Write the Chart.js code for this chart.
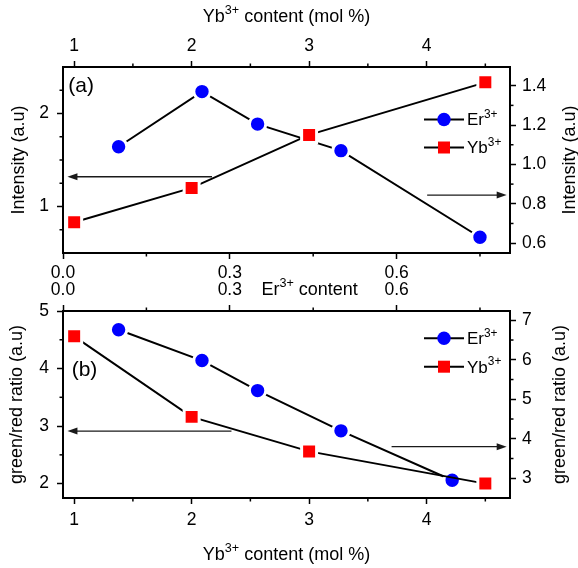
<!DOCTYPE html>
<html>
<head>
<meta charset="utf-8">
<script src="https://cdn.jsdelivr.net/npm/chart.js@4.4.1/dist/chart.umd.min.js"></script>
<style>
  html, body { margin: 0; padding: 0; background: #fff; }
  #wrap { position: relative; width: 578px; height: 568px; }
  #wrap canvas { position: absolute; left: 0; top: 0; }
</style>
</head>
<body>
<div id="wrap">
  <canvas id="panelB" width="578" height="568"></canvas>
  <canvas id="panelA" width="578" height="568"></canvas>
</div>
<script>
// panel (a): intensity
const ybContentA = [1, 2, 3, 4.5];
const ybIntensityA = [0.83, 1.20, 1.77, 2.335];
const erContentA = [0.1, 0.25, 0.35, 0.5, 0.75];
const erIntensityA = [1.09, 1.37, 1.205, 1.07, 0.63];

// panel (b): green/red ratio
const ybContentB = [1, 2, 3, 4.5];
const ybRatioB = [4.56, 3.16, 2.56, 2.0];
const erContentB = [0.1, 0.25, 0.35, 0.5, 0.7];
const erRatioB = [6.76, 5.98, 5.22, 4.2, 2.95];

// ticks (major labelled, minor unlabelled)
const ybTicks = [1, 2, 3, 4];
const ybMinor = [1.5, 2.5, 3.5, 4.5];
const erTicks = [0, 0.3, 0.6];
const erMinor = [0.15, 0.45, 0.75];
const intensityTicks = [1, 2];
const intensityMinor = [0.75, 1.25, 1.5, 1.75, 2.25];
const intensityRTicks = [0.6, 0.8, 1.0, 1.2, 1.4];
const intensityRMinor = [0.7, 0.9, 1.1, 1.3];
const ratioTicks = [2, 3, 4, 5];
const ratioMinor = [2.5, 3.5, 4.5];
const ratioRTicks = [3, 4, 5, 6, 7];
const ratioRMinor = [3.5, 4.5, 5.5, 6.5];

// arrows: y on left axis, x on Er content axis
const arrowsA = [{ y: 1.32, from: 0.268, to: 0.008 }, { y: 1.123, from: 0.655, to: 0.798 }];
const arrowsB = [{ y: 2.914, from: 0.303, to: 0.008 }, { y: 2.642, from: 0.591, to: 0.798 }];

const FONT = '"Liberation Sans", Arial, Helvetica, sans-serif';
const BLUE = '#0000ff';
const RED = '#ff0000';

// text with superscripts, y is the visual middle of the line
function rich(ctx, parts, x, y, size, opt = {}) {
  const supSize = size * 0.7;
  const fontOf = sup => `${sup ? supSize : size}px ${FONT}`;
  let w = 0;
  for (const [t, sup] of parts) { ctx.font = fontOf(sup); w += ctx.measureText(t).width; }
  ctx.save();
  ctx.translate(x, y);
  if (opt.rot) ctx.rotate(opt.rot);
  ctx.fillStyle = '#000';
  ctx.textBaseline = 'alphabetic';
  ctx.textAlign = 'left';
  let cx = opt.align === 'left' ? 0 : -w / 2;
  const base = size * 0.35;
  for (const [t, sup] of parts) {
    ctx.font = fontOf(sup);
    ctx.fillText(t, cx, sup ? base - size * 0.45 : base);
    cx += ctx.measureText(t).width;
  }
  ctx.restore();
}

function arrow(ctx, x1, y, x2) {
  const dir = Math.sign(x2 - x1);
  ctx.save();
  ctx.strokeStyle = '#1a1a1a';
  ctx.fillStyle = '#1a1a1a';
  ctx.lineWidth = 1.3;
  ctx.beginPath();
  ctx.moveTo(x1, y);
  ctx.lineTo(x2 - dir * 8, y);
  ctx.stroke();
  ctx.beginPath();
  ctx.moveTo(x2, y);
  ctx.lineTo(x2 - dir * 10, y - 3.5);
  ctx.lineTo(x2 - dir * 10, y + 3.5);
  ctx.closePath();
  ctx.fill();
  ctx.restore();
}

function minorTicks(ctx, scale, vals) {
  const len = 3.5;
  ctx.save();
  ctx.strokeStyle = '#000';
  ctx.lineWidth = 1.5;
  vals.forEach(v => {
    const p = scale.getPixelForValue(v);
    ctx.beginPath();
    if (scale.position === 'left') { ctx.moveTo(scale.right, p); ctx.lineTo(scale.right - len, p); }
    if (scale.position === 'right') { ctx.moveTo(scale.left, p); ctx.lineTo(scale.left + len, p); }
    if (scale.position === 'top') { ctx.moveTo(p, scale.bottom); ctx.lineTo(p, scale.bottom - len); }
    if (scale.position === 'bottom') { ctx.moveTo(p, scale.top); ctx.lineTo(p, scale.top + len); }
    ctx.stroke();
  });
  ctx.restore();
}

const legendItems = [
  { parts: [['Er', 0], ['3+', 1]], color: BLUE, style: 'circle' },
  { parts: [['Yb', 0], ['3+', 1]], color: RED, style: 'rect' }
];

function decor(cfg) {
  return {
    id: 'decor',
    afterDraw(chart) {
      const ctx = chart.ctx;
      const area = chart.chartArea;
      Object.entries(cfg.minor).forEach(([id, vals]) => minorTicks(ctx, chart.scales[id], vals));

      const xs = chart.scales.xEr, ys = chart.scales.yL;
      cfg.arrows.forEach(a => arrow(ctx, xs.getPixelForValue(a.from), ys.getPixelForValue(a.y), xs.getPixelForValue(a.to)));

      // legend
      legendItems.forEach((it, i) => {
        const y = area.top + cfg.legendRows[i];
        const mx = area.right - 66;
        ctx.save();
        ctx.strokeStyle = '#000';
        ctx.lineWidth = 2;
        ctx.beginPath();
        ctx.moveTo(mx - 20, y);
        ctx.lineTo(mx + 20, y);
        ctx.stroke();
        ctx.fillStyle = it.color;
        ctx.beginPath();
        if (it.style === 'circle') ctx.arc(mx, y, 6.7, 0, Math.PI * 2);
        else ctx.rect(mx - 6, y - 6, 12, 12);
        ctx.fill();
        ctx.restore();
        rich(ctx, it.parts, mx + 23, y, 17, { align: 'left' });
      });

      rich(ctx, [[cfg.label, 0]], area.left + cfg.labelPos[0], area.top + cfg.labelPos[1], 21, { align: 'left' });
      cfg.titles.forEach(t => rich(ctx, t.parts, t.x, t.y, 18, { rot: t.rot }));
    }
  };
}

function axis(position, min, max, ticks, fmt, pad, size) {
  return {
    type: 'linear',
    position,
    min,
    max,
    bounds: 'data',
    afterBuildTicks: s => { s.ticks = ticks.map(v => ({ value: v })); },
    afterFit: s => { if (s.isHorizontal()) s.height = size; else s.width = size; },
    border: { display: true, color: '#000', width: 2 },
    grid: { display: true, drawOnChartArea: false, drawTicks: true, tickLength: 6, tickWidth: 1.5, color: '#000', tickColor: '#000' },
    ticks: { color: '#000', padding: pad, maxRotation: 0, autoSkip: false, font: { family: FONT, size: 17.5 }, callback: v => fmt(v) },
    title: { display: false }
  };
}

const int = v => String(Math.round(v));
const one = v => v.toFixed(1);

function series(xs, ys, style, color, xAxisID) {
  const circle = style === 'circle';
  return {
    data: xs.map((x, i) => ({ x, y: ys[i] })),
    xAxisID,
    yAxisID: circle ? 'yR' : 'yL',
    showLine: true,
    borderColor: '#000',
    borderWidth: 2,
    pointStyle: style,
    pointRadius: circle ? 8.2 : 10.6,
    pointHoverRadius: circle ? 8.2 : 10.6,
    pointBackgroundColor: color,
    pointBorderColor: '#fff',
    pointBorderWidth: 3,
    pointHoverBorderWidth: 3
  };
}

const common = {
  responsive: false,
  animation: false,
  events: [],
  plugins: { legend: { display: false }, tooltip: { enabled: false } }
};

new Chart(document.getElementById('panelA'), {
  type: 'scatter',
  data: {
    datasets: [
      series(ybContentA, ybIntensityA, 'rect', RED, 'xYb'),
      series(erContentA, erIntensityA, 'circle', BLUE, 'xEr')
    ]
  },
  options: {
    ...common,
    layout: { autoPadding: false, padding: { top: 0, left: 0, right: 0, bottom: 258 } },
    scales: {
      xYb: axis('top', 0.905, 4.71, ybTicks, int, 4, 67),
      xEr: axis('bottom', 0, 0.804, erTicks, one, 3.5, 57),
      yL: axis('left', 0.5, 2.5, intensityTicks, int, 8, 63),
      yR: axis('right', 0.55, 1.495, intensityRTicks, one, 6, 68)
    }
  },
  plugins: [decor({
    minor: { xYb: ybMinor, xEr: erMinor, yL: intensityMinor, yR: intensityRMinor },
    arrows: arrowsA,
    legendRows: [52.5, 80.5],
    label: '(a)',
    labelPos: [5.3, 18],
    titles: [
      { parts: [['Yb', 0], ['3+', 1], [' content (mol %)', 0]], x: 286.5, y: 15.8 },
      { parts: [['Intensity (a.u)', 0]], x: 17.8, y: 160, rot: -Math.PI / 2 },
      { parts: [['Intensity (a.u)', 0]], x: 569, y: 160, rot: -Math.PI / 2 }
    ]
  })]
});

new Chart(document.getElementById('panelB'), {
  type: 'scatter',
  data: {
    datasets: [
      series(ybContentB, ybRatioB, 'rect', RED, 'xYb'),
      series(erContentB, erRatioB, 'circle', BLUE, 'xEr')
    ]
  },
  options: {
    ...common,
    layout: { autoPadding: false, padding: { top: 270, left: 0, right: 0, bottom: 0 } },
    scales: {
      xEr: axis('top', 0, 0.804, erTicks, one, 4.5, 41),
      xYb: axis('bottom', 0.905, 4.71, ybTicks, int, 5.5, 70),
      yL: axis('left', 1.75, 5, ratioTicks, int, 8, 63),
      yR: axis('right', 2.5, 7.235, ratioRTicks, int, 6, 68)
    }
  },
  plugins: [decor({
    minor: { xYb: ybMinor, xEr: erMinor, yL: ratioMinor, yR: ratioRMinor },
    arrows: arrowsB,
    legendRows: [27.3, 55.7],
    label: '(b)',
    labelPos: [8.7, 57.7],
    titles: [
      { parts: [['Er', 0], ['3+', 1], [' content', 0]], x: 309.6, y: 289 },
      { parts: [['Yb', 0], ['3+', 1], [' content (mol %)', 0]], x: 286.5, y: 554 },
      { parts: [['green/red ratio (a.u)', 0]], x: 16, y: 404.5, rot: -Math.PI / 2 },
      { parts: [['green/red ratio (a.u)', 0]], x: 559, y: 404.5, rot: -Math.PI / 2 }
    ]
  })]
});
</script>
</body>
</html>
